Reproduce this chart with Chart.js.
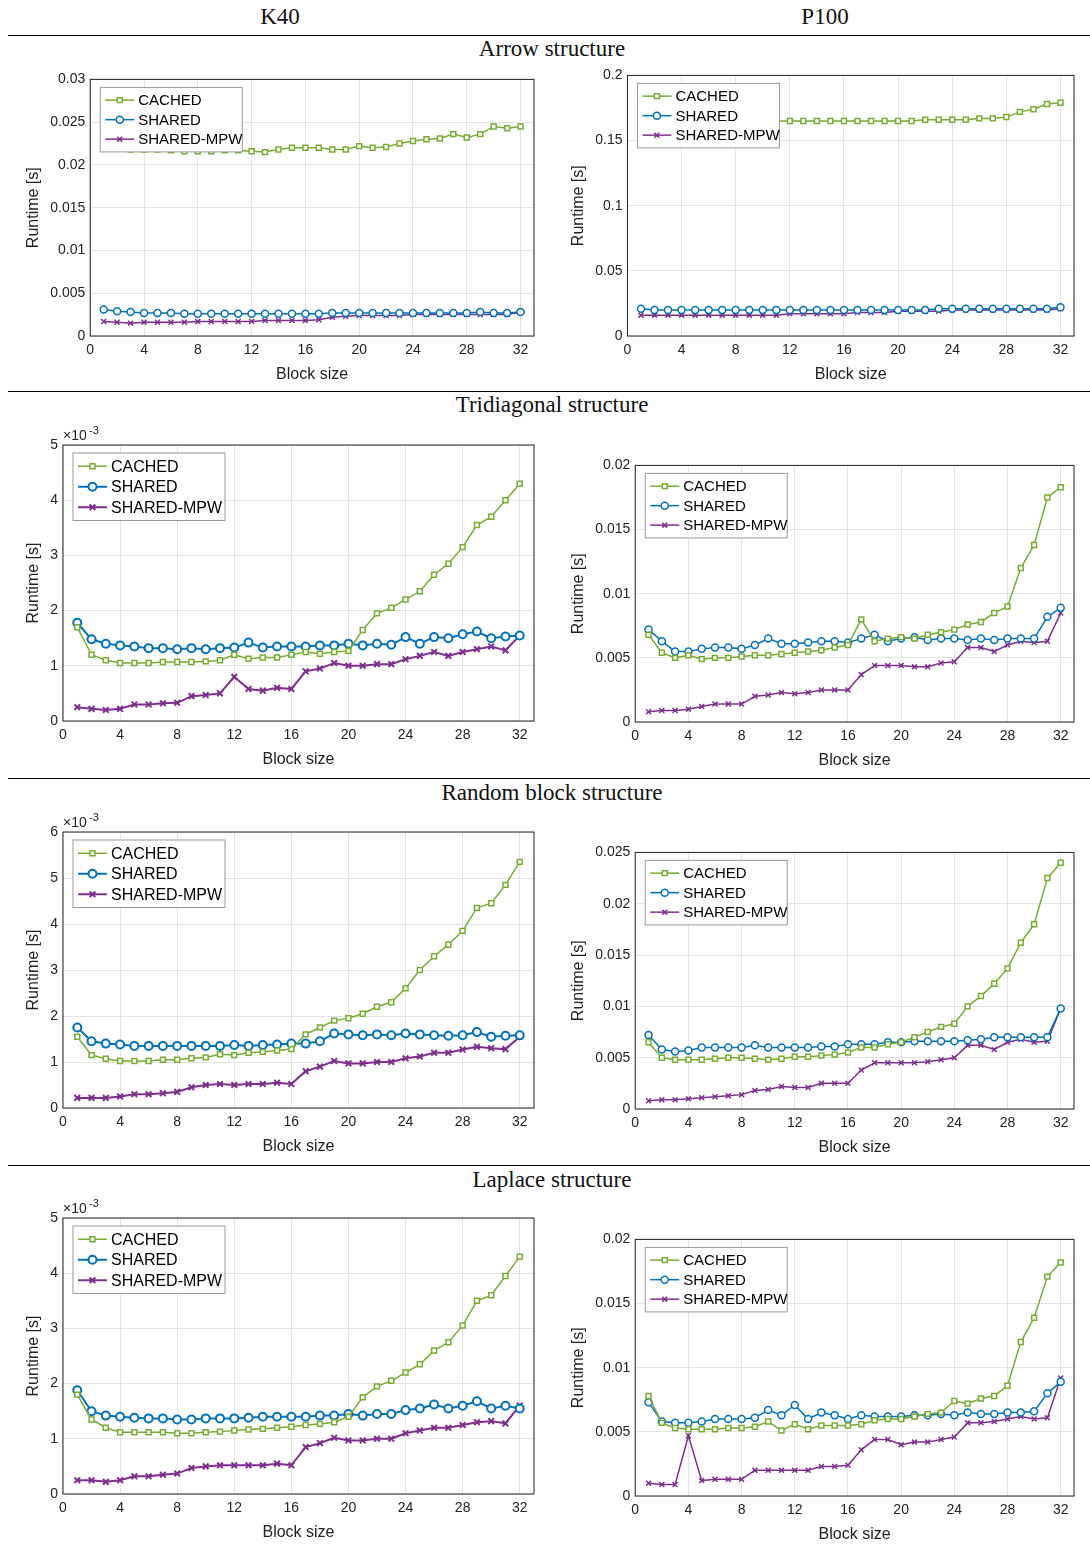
<!DOCTYPE html>
<html lang="en">
<head>
<meta charset="UTF-8">
<title>Runtime vs block size</title>
<script src="https://cdn.jsdelivr.net/npm/chart.js@4.4.0/dist/chart.umd.min.js"></script>
<style>
    body { margin: 0; background: #fff; width: 1090px; height: 1544px; position: relative; font-family: "Liberation Serif", serif; }
    .hdr { position: absolute; font-size: 23px; color: #111; transform: translateX(-50%); white-space: nowrap; }
    .rule { position: absolute; left: 8px; width: 1082px; border-top: 1.5px solid #000; }
    .box { position: absolute; }
</style>
</head>
<body>
<div class="hdr" style="left:280px;top:4px">K40</div>
<div class="hdr" style="left:825px;top:4px">P100</div>
<div class="rule" style="top:35px"></div>
<div class="hdr" style="left:552px;top:36px">Arrow structure</div>
<div class="rule" style="top:391px"></div>
<div class="hdr" style="left:552px;top:392px">Tridiagonal structure</div>
<div class="rule" style="top:778px"></div>
<div class="hdr" style="left:552px;top:780px">Random block structure</div>
<div class="rule" style="top:1165px"></div>
<div class="hdr" style="left:552px;top:1167px">Laplace structure</div>

<div class="box" style="left:20px;top:66px;width:520px;height:322px"><canvas id="c1"></canvas></div>
<div class="box" style="left:565px;top:62px;width:515px;height:326px"><canvas id="c2"></canvas></div>
<div class="box" style="left:20px;top:425px;width:520px;height:348px"><canvas id="c3"></canvas></div>
<div class="box" style="left:565px;top:452px;width:515px;height:322px"><canvas id="c4"></canvas></div>
<div class="box" style="left:20px;top:812px;width:520px;height:348px"><canvas id="c5"></canvas></div>
<div class="box" style="left:565px;top:839px;width:515px;height:322px"><canvas id="c6"></canvas></div>
<div class="box" style="left:20px;top:1198px;width:520px;height:348px"><canvas id="c7"></canvas></div>
<div class="box" style="left:565px;top:1226px;width:515px;height:322px"><canvas id="c8"></canvas></div>

<script>
const blockSizes = Array.from({length: 32}, (_, i) => i + 1);
const seriesNames = ['CACHED', 'SHARED', 'SHARED-MPW'];

const k40ArrowCached = [0.022,0.0219,0.0218,0.0218,0.0218,0.0217,0.0216,0.0216,0.0216,0.0217,0.0217,0.0216,0.0215,0.0218,0.022,0.022,0.022,0.0218,0.0218,0.0222,0.022,0.0221,0.0225,0.0228,0.023,0.0231,0.0236,0.0232,0.0236,0.0245,0.0243,0.0245,0.025].slice(0,32);
const k40ArrowShared = [0.0031,0.0029,0.0028,0.0027,0.0027,0.0027,0.0026,0.0026,0.0026,0.0026,0.0026,0.0026,0.0026,0.0026,0.0026,0.0026,0.0026,0.0027,0.0027,0.0027,0.0027,0.0027,0.0027,0.0027,0.0027,0.0027,0.0027,0.0027,0.0028,0.0027,0.0027,0.0028];
const k40ArrowMpw = [0.0017,0.0016,0.0015,0.0016,0.0016,0.0016,0.0016,0.0017,0.0017,0.0017,0.0017,0.0017,0.0018,0.0018,0.0018,0.0018,0.0019,0.0022,0.0023,0.0024,0.0024,0.0024,0.0024,0.0025,0.0025,0.0025,0.0025,0.0025,0.0025,0.0025,0.0025,0.0028];

const p100ArrowCached = [0.165,0.165,0.165,0.165,0.165,0.165,0.165,0.165,0.165,0.165,0.165,0.165,0.165,0.165,0.165,0.165,0.165,0.165,0.165,0.165,0.165,0.166,0.166,0.166,0.166,0.167,0.167,0.168,0.172,0.174,0.178,0.179];
const p100ArrowShared = [0.021,0.02,0.02,0.02,0.02,0.02,0.02,0.02,0.02,0.02,0.02,0.02,0.02,0.02,0.02,0.02,0.02,0.02,0.02,0.02,0.02,0.02,0.021,0.021,0.021,0.021,0.021,0.021,0.021,0.021,0.021,0.022];
const p100ArrowMpw = [0.016,0.016,0.016,0.016,0.016,0.016,0.016,0.016,0.016,0.016,0.016,0.017,0.017,0.017,0.017,0.017,0.018,0.018,0.018,0.019,0.019,0.019,0.019,0.02,0.02,0.02,0.02,0.02,0.02,0.02,0.02,0.021];

const k40TriCached = [1.7,1.2,1.1,1.05,1.05,1.05,1.07,1.07,1.07,1.08,1.1,1.2,1.13,1.15,1.15,1.2,1.25,1.22,1.25,1.27,1.65,1.95,2.05,2.2,2.35,2.65,2.85,3.15,3.55,3.7,4.0,4.3];
const k40TriShared = [1.78,1.48,1.4,1.37,1.35,1.32,1.32,1.3,1.32,1.3,1.32,1.33,1.42,1.33,1.35,1.35,1.35,1.37,1.37,1.4,1.37,1.4,1.38,1.52,1.4,1.52,1.5,1.57,1.62,1.5,1.53,1.55];
const k40TriMpw = [0.25,0.22,0.2,0.22,0.3,0.3,0.32,0.33,0.45,0.47,0.5,0.8,0.58,0.55,0.6,0.58,0.9,0.95,1.05,1.0,1.0,1.03,1.03,1.12,1.18,1.25,1.18,1.25,1.3,1.35,1.28,1.55];

const p100TriCached = [0.0068,0.0054,0.005,0.0052,0.0049,0.005,0.005,0.0051,0.0052,0.0052,0.0053,0.0054,0.0055,0.0056,0.0058,0.006,0.008,0.0063,0.0065,0.0066,0.0065,0.0068,0.007,0.0072,0.0076,0.0078,0.0085,0.009,0.012,0.0138,0.0175,0.0183];
const p100TriShared = [0.0072,0.0063,0.0055,0.0055,0.0057,0.0058,0.0058,0.0057,0.006,0.0065,0.0061,0.0061,0.0062,0.0063,0.0063,0.0062,0.0065,0.0068,0.0063,0.0065,0.0066,0.0064,0.0065,0.0065,0.0064,0.0065,0.0064,0.0065,0.0065,0.0065,0.0082,0.0089];
const p100TriMpw = [0.0008,0.0009,0.0009,0.001,0.0012,0.0014,0.0014,0.0014,0.002,0.0021,0.0023,0.0022,0.0023,0.0025,0.0025,0.0025,0.0037,0.0044,0.0044,0.0044,0.0043,0.0043,0.0046,0.0047,0.0058,0.0058,0.0055,0.006,0.0063,0.0062,0.0063,0.0085];

const k40RandCached = [1.55,1.15,1.07,1.02,1.02,1.02,1.05,1.05,1.08,1.1,1.17,1.15,1.2,1.22,1.25,1.28,1.6,1.75,1.9,1.95,2.05,2.2,2.3,2.6,3.0,3.3,3.55,3.85,4.35,4.45,4.85,5.35];
const k40RandShared = [1.75,1.45,1.4,1.38,1.35,1.35,1.35,1.35,1.35,1.35,1.35,1.37,1.35,1.37,1.38,1.4,1.4,1.45,1.62,1.6,1.58,1.6,1.58,1.62,1.6,1.58,1.57,1.58,1.65,1.55,1.57,1.58];
const k40RandMpw = [0.22,0.22,0.22,0.25,0.3,0.3,0.32,0.35,0.45,0.5,0.52,0.5,0.52,0.52,0.55,0.52,0.8,0.9,1.02,0.97,0.97,1.0,1.0,1.08,1.12,1.2,1.2,1.27,1.33,1.3,1.28,1.55];

const p100RandCached = [0.0065,0.005,0.0048,0.0048,0.0048,0.0049,0.005,0.005,0.0049,0.0048,0.0049,0.0051,0.0051,0.0052,0.0053,0.0055,0.006,0.006,0.0063,0.0065,0.007,0.0075,0.008,0.0083,0.01,0.011,0.0122,0.0137,0.0162,0.018,0.0225,0.024];
const p100RandShared = [0.0072,0.0058,0.0056,0.0057,0.006,0.006,0.006,0.006,0.0062,0.006,0.006,0.006,0.006,0.0061,0.0061,0.0063,0.0063,0.0063,0.0065,0.0065,0.0066,0.0066,0.0066,0.0066,0.0067,0.0068,0.007,0.007,0.007,0.007,0.007,0.0098];
const p100RandMpw = [0.0008,0.0009,0.0009,0.001,0.0011,0.0012,0.0013,0.0014,0.0018,0.0019,0.0022,0.0021,0.0021,0.0025,0.0025,0.0025,0.0038,0.0045,0.0045,0.0045,0.0045,0.0046,0.0048,0.005,0.0062,0.0062,0.0058,0.0065,0.0068,0.0065,0.0066,0.0098];

const k40LapCached = [1.8,1.35,1.2,1.12,1.12,1.12,1.12,1.1,1.1,1.12,1.13,1.15,1.17,1.18,1.2,1.22,1.25,1.27,1.3,1.4,1.75,1.95,2.05,2.2,2.35,2.6,2.75,3.05,3.5,3.6,3.95,4.3];
const k40LapShared = [1.88,1.5,1.42,1.4,1.38,1.37,1.37,1.35,1.35,1.37,1.37,1.37,1.38,1.4,1.4,1.4,1.4,1.42,1.42,1.45,1.42,1.45,1.45,1.52,1.55,1.62,1.55,1.6,1.68,1.55,1.6,1.55];
const k40LapMpw = [0.25,0.25,0.22,0.25,0.32,0.32,0.35,0.37,0.47,0.5,0.52,0.52,0.52,0.52,0.55,0.52,0.85,0.92,1.02,0.97,0.97,1.0,1.0,1.1,1.15,1.2,1.2,1.25,1.3,1.32,1.28,1.6];

const p100LapCached = [0.0078,0.0057,0.0053,0.0052,0.0052,0.0052,0.0053,0.0053,0.0054,0.0058,0.0051,0.0056,0.0052,0.0055,0.0055,0.0055,0.0056,0.0059,0.006,0.006,0.0062,0.0064,0.0065,0.0074,0.0072,0.0076,0.0078,0.0086,0.012,0.0139,0.0171,0.0182];
const p100LapShared = [0.0073,0.0058,0.0057,0.0057,0.0058,0.006,0.006,0.006,0.0061,0.0067,0.0063,0.0071,0.006,0.0065,0.0063,0.006,0.0063,0.0062,0.0062,0.0062,0.0063,0.0063,0.0064,0.0063,0.0065,0.0064,0.0064,0.0065,0.0065,0.0066,0.008,0.0089];
const p100LapMpw = [0.001,0.0009,0.0009,0.0047,0.0012,0.0013,0.0013,0.0013,0.002,0.002,0.002,0.002,0.002,0.0023,0.0023,0.0024,0.0036,0.0044,0.0044,0.004,0.0042,0.0042,0.0044,0.0046,0.0057,0.0057,0.0058,0.006,0.0062,0.006,0.0061,0.0092];

const colors = ['#77ac30', '#0072bd', '#7e2f8e'];
const markers = ['rect', 'circle', 'crossRot'];
const FONT = '"Liberation Sans", Arial, sans-serif';

// frame + legend box + x10^-3 label
const framePlugin = {
    id: 'frame',
    afterDraw(chart, args, opts) {
        const {ctx, chartArea: a} = chart;
        ctx.save();
        ctx.strokeStyle = '#222';
        ctx.lineWidth = 1;
        ctx.strokeRect(a.left, a.top, a.right - a.left, a.bottom - a.top);
        if (opts.exp) {
            ctx.fillStyle = '#222';
            ctx.font = '14px ' + FONT;
            ctx.textBaseline = 'alphabetic';
            ctx.fillText('\u00d710', a.left, a.top - 5);
            ctx.font = '11px ' + FONT;
            ctx.fillText('-3', a.left + 26, a.top - 11);
        }
        // legend
        const lx = a.left + 10, ly = a.top + 8, rowH = opts.rowH || 19.5;
        const w = opts.legW || 142;
        ctx.fillStyle = '#fff';
        ctx.fillRect(lx, ly, w, rowH * 3 + 6);
        ctx.strokeStyle = '#999';
        ctx.strokeRect(lx, ly, w, rowH * 3 + 6);
        ctx.textBaseline = 'middle';
        chart.data.datasets.forEach((ds, i) => {
            const cy = ly + 3 + rowH * (i + 0.5);
            ctx.strokeStyle = ds.borderColor;
            ctx.lineWidth = ds.borderWidth;
            ctx.beginPath();
            ctx.moveTo(lx + 5, cy);
            ctx.lineTo(lx + 34, cy);
            ctx.stroke();
            ctx.fillStyle = '#fff';
            Chart.helpers.drawPoint(ctx, {pointStyle: ds.pointStyle, radius: ds.pointRadius, borderWidth: ds.borderWidth}, lx + 19.5, cy);
            ctx.fillStyle = '#000';
            ctx.font = (opts.legFont || 15) + 'px ' + FONT;
            ctx.fillText(ds.label, lx + 38, cy + 1);
        });
        ctx.restore();
    }
};

function makeChart(id, series, yMax, yStep, opts) {
    const datasets = series.map((vals, i) => ({
        label: seriesNames[i],
        data: vals.map((v, j) => ({x: blockSizes[j], y: v})),
        borderColor: colors[i],
        backgroundColor: '#fff',
        pointBackgroundColor: i === 2 ? colors[i] : '#fff',
        pointStyle: markers[i],
        pointRadius: opts.thick && i > 0 ? 4 : 3.5,
        borderWidth: opts.thick && i > 0 ? 2 : 1.5,
        tension: 0
    }));
    new Chart(document.getElementById(id), {
        type: 'line',
        data: {datasets},
        options: {
            responsive: true,
            maintainAspectRatio: false,
            animation: false,
            layout: {padding: {top: opts.exp ? 20 : 6, right: 6}},
            plugins: {legend: {display: false}, tooltip: {enabled: false}, frame: opts},
            scales: {
                x: {
                    type: 'linear', min: 0, max: 33,
                    afterBuildTicks: ax => { ax.ticks = [0,4,8,12,16,20,24,28,32].map(v => ({value: v})); },
                    grid: {color: '#e3e3e3', drawTicks: false},
                    border: {display: false},
                    ticks: {color: '#222', font: {family: FONT, size: 14}, padding: 6},
                    title: {display: true, text: 'Block size', color: '#222', font: {family: FONT, size: 16}, padding: {top: 0}}
                },
                y: {
                    min: 0, max: yMax,
                    ticks: {stepSize: yStep, color: '#222', font: {family: FONT, size: 14}, padding: 5,
                        callback: v => String(+v.toFixed(4))},
                    grid: {color: '#e3e3e3', drawTicks: false},
                    border: {display: false},
                    title: {display: true, text: 'Runtime [s]', color: '#222', font: {family: FONT, size: 16}, padding: {bottom: 2}}
                }
            }
        },
        plugins: [framePlugin]
    });
}

makeChart('c1', [k40ArrowCached, k40ArrowShared, k40ArrowMpw], 0.03, 0.005, {});
makeChart('c2', [p100ArrowCached, p100ArrowShared, p100ArrowMpw], 0.2, 0.05, {});
makeChart('c3', [k40TriCached, k40TriShared, k40TriMpw], 5, 1, {exp: true, thick: true, legW: 152, rowH: 20.5, legFont: 16});
makeChart('c4', [p100TriCached, p100TriShared, p100TriMpw], 0.02, 0.005, {});
makeChart('c5', [k40RandCached, k40RandShared, k40RandMpw], 6, 1, {exp: true, thick: true, legW: 152, rowH: 20.5, legFont: 16});
makeChart('c6', [p100RandCached, p100RandShared, p100RandMpw], 0.025, 0.005, {});
makeChart('c7', [k40LapCached, k40LapShared, k40LapMpw], 5, 1, {exp: true, thick: true, legW: 152, rowH: 20.5, legFont: 16});
makeChart('c8', [p100LapCached, p100LapShared, p100LapMpw], 0.02, 0.005, {});
</script>
</body>
</html>
